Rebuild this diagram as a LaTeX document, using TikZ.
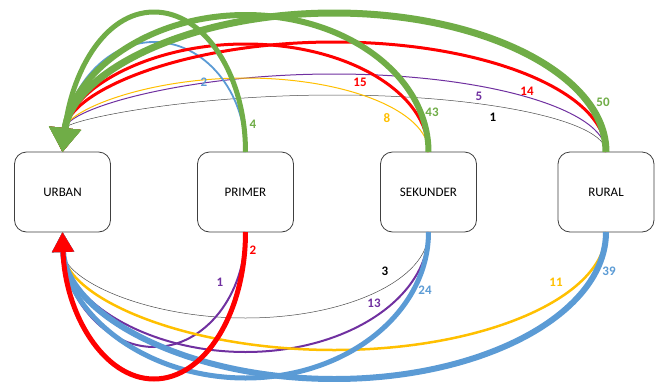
\documentclass[tikz,border=0pt]{standalone}
\usepackage{fontspec}
\setmainfont{Carlito}
\usetikzlibrary{arrows.meta,calc}
\definecolor{cgreen}{HTML}{70AD47}
\definecolor{cblue}{HTML}{5B9BD5}
\definecolor{cred}{HTML}{FF0000}
\definecolor{cyellow}{HTML}{FFC000}
\definecolor{cpurple}{HTML}{7030A0}
\definecolor{cline}{HTML}{404040}
% half-ellipse from the top of #2 to the top of URBAN, height #3
\newcommand\arcup[3]{%
  \draw[#1] (#2.north) .. controls +(0,-0.5523*#3) and ($(#2.north)!0.5!(urban.north)!0.5523!(#2.north)+(0,-#3)$) ..
    ($(#2.north)!0.5!(urban.north)+(0,-#3)$) .. controls ($(#2.north)!0.5!(urban.north)!0.5523!(urban.north)+(0,-#3)$) and +(0.06*#3,-0.5523*#3) .. (urban.north);}
% half-ellipse from the bottom of #2 to the bottom of URBAN, depth #3
\newcommand\arcdown[3]{%
  \draw[#1] (#2.south) .. controls +(0,0.5523*#3) and ($(#2.south)!0.5!(urban.south)!0.5523!(#2.south)+(0,#3)$) ..
    ($(#2.south)!0.5!(urban.south)+(0,#3)$) .. controls ($(#2.south)!0.5!(urban.south)!0.5523!(urban.south)+(0,#3)$) and +(0.015*#3,0.5523*#3) .. (urban.south);}
\begin{document}
\begin{tikzpicture}[x=1pt,y=-1pt,
  box/.style={draw=cline, line width=0.8pt, rounded corners=12pt, minimum width=96pt, minimum height=80pt,
    inner sep=0pt, outer sep=0pt, font=\fontsize{13}{15}\selectfont},
  topA/.style={-{Triangle[length=24pt,width=31pt]}},
  botA/.style={-{Triangle[length=20pt,width=21pt]}},
  lbl/.style={font=\fontsize{13}{15}\selectfont\bfseries, inner sep=0pt}]
\fill[white] (0,0) rectangle (657,381);
\useasboundingbox (0,0) rectangle (657,381);

\node[box] (urban) at (62.5,192) {URBAN};
\node[box] (primer) at (245.5,192) {PRIMER};
\node[box] (sekunder) at (428.5,192) {SEKUNDER};
\node[box] (rural) at (606,192) {RURAL};

% upper connectors
\arcup{topA, black!70, line width=0.5pt}{rural}{57}
\arcup{topA, cpurple, line width=1pt}{rural}{78}
\arcup{topA, cyellow, line width=1pt}{sekunder}{74}
\arcup{topA, cblue, line width=1.8pt}{primer}{110}
\arcup{topA, cred, line width=3pt}{sekunder}{108}
\arcup{topA, cred, line width=3pt}{rural}{110}
\arcup{topA, cgreen, line width=6pt}{sekunder}{137}
\arcup{topA, cgreen, line width=7pt}{rural}{139}
\arcup{topA, cgreen, line width=5pt}{primer}{140}

% lower connectors
\arcdown{botA, black!70, line width=0.5pt}{sekunder}{86}
\arcdown{botA, cpurple, line width=2pt}{primer}{115}
\arcdown{botA, cpurple, line width=2pt}{sekunder}{120}
\arcdown{botA, cyellow, line width=2.5pt}{rural}{118}
\arcdown{botA, cblue, line width=5pt}{sekunder}{146}
\arcdown{botA, cblue, line width=6pt}{rural}{147}
\arcdown{botA, cred, line width=5pt}{primer}{147}

% labels, upper
\node[lbl, text=cblue] (t2) at (204,82) {2};
\node[lbl, text=cgreen] (t4) at (253,124) {4};
\node[lbl, text=cred] (t15) at (360,82) {15};
\node[lbl, text=cyellow] (t8) at (387,118) {8};
\node[lbl, text=cgreen] (t43) at (432,112) {43};
\node[lbl, text=cpurple] (t5) at (479,96) {5};
\node[lbl, text=cred] (t14) at (527,91) {14};
\node[lbl, text=black] (t1) at (493,117) {1};
\node[lbl, text=cgreen] (t50) at (603,102) {50};
% labels, lower
\node[lbl, text=cred] (b2) at (253,250) {2};
\node[lbl, text=cpurple] (b1) at (220,282) {1};
\node[lbl, text=black] (b3) at (385,271) {3};
\node[lbl, text=cpurple] (b13) at (374,303) {13};
\node[lbl, text=cblue] (b24) at (425,290) {24};
\node[lbl, text=cyellow] (b11) at (556,282) {11};
\node[lbl, text=cblue] (b39) at (609,271) {39};
\end{tikzpicture}
\end{document}
